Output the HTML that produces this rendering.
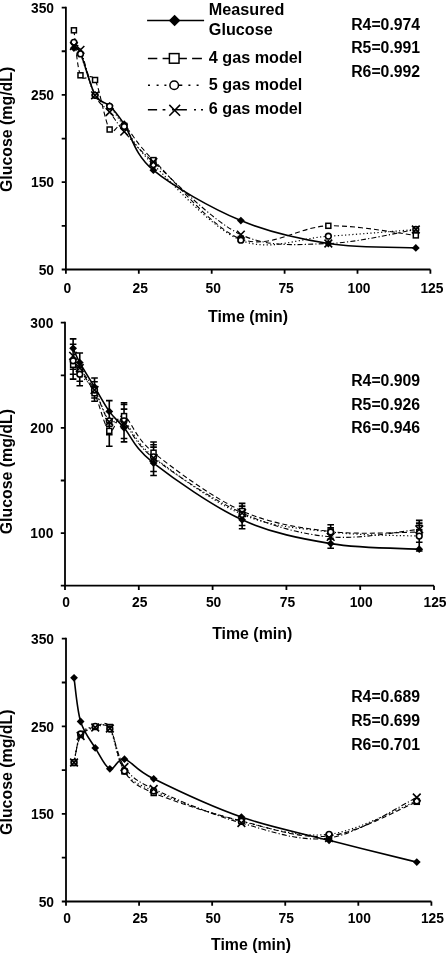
<!DOCTYPE html>
<html><head><meta charset="utf-8"><style>
html,body{margin:0;padding:0;background:#fff;}
svg{display:block;will-change:transform;}
text{font-family:"Liberation Sans",sans-serif;font-weight:bold;fill:#000;}
</style></head><body>
<svg width="448" height="954" viewBox="0 0 448 954">
<path d="M65.90,6.70V269.50H430.40" stroke="#000" stroke-width="1.80" fill="none"/>
<path d="M61.70,269.50H65.90M61.70,225.85H65.90M61.70,182.20H65.90M61.70,138.55H65.90M61.70,94.90H65.90M61.70,51.25H65.90M61.70,7.60H65.90M65.90,269.50V273.70M138.80,269.50V273.70M211.70,269.50V273.70M284.60,269.50V273.70M357.50,269.50V273.70M430.40,269.50V273.70" stroke="#000" stroke-width="1.80" fill="none"/>
<text x="54.00" y="12.80" font-size="13.80" text-anchor="end" >350</text>
<text x="54.00" y="100.10" font-size="13.80" text-anchor="end" >250</text>
<text x="54.00" y="187.40" font-size="13.80" text-anchor="end" >150</text>
<text x="54.00" y="274.70" font-size="13.80" text-anchor="end" >50</text>
<text x="67.40" y="292.50" font-size="13.80" text-anchor="middle" >0</text>
<text x="140.30" y="292.50" font-size="13.80" text-anchor="middle" >25</text>
<text x="213.20" y="292.50" font-size="13.80" text-anchor="middle" >50</text>
<text x="286.10" y="292.50" font-size="13.80" text-anchor="middle" >75</text>
<text x="359.00" y="292.50" font-size="13.80" text-anchor="middle" >100</text>
<text x="431.90" y="292.50" font-size="13.80" text-anchor="middle" >125</text>
<text x="248.00" y="321.70" font-size="15.90" text-anchor="middle" >Time (min)</text>
<text transform="translate(11.60,129.40) rotate(-90)" font-size="15.90" text-anchor="middle">Glucose (mg/dL)</text>
<text x="351.20" y="29.60" font-size="15.80" text-anchor="start" >R4=0.974</text>
<text x="351.20" y="53.40" font-size="15.80" text-anchor="start" >R5=0.991</text>
<text x="351.20" y="77.20" font-size="15.80" text-anchor="start" >R6=0.992</text>
<path d="M73.92,48.00 C75.01,48.83 76.96,45.17 80.48,53.00 C84.00,60.83 90.20,86.20 95.06,95.00 C99.92,103.80 104.78,100.93 109.64,105.80 C114.50,110.67 116.93,113.47 124.22,124.20 C131.51,134.93 133.94,154.13 153.38,170.20 C172.82,186.27 211.70,208.38 240.86,220.60 C270.02,232.82 299.18,238.95 328.34,243.50 C357.50,248.05 401.24,247.17 415.82,247.90" stroke="#000" stroke-width="1.6" fill="none"/>
<path d="M73.92,30.30 C75.01,37.80 76.96,67.02 80.48,75.30 C84.00,83.58 90.20,70.97 95.06,80.00 C99.92,89.03 104.78,121.85 109.64,129.50 C114.50,137.15 116.93,120.80 124.22,125.90 C131.51,131.00 133.94,141.25 153.38,160.10 C172.82,178.95 211.70,228.05 240.86,239.00 C270.02,249.95 299.18,226.40 328.34,225.80 C357.50,225.20 401.24,233.80 415.82,235.40" stroke="#000" stroke-width="1.1" fill="none" stroke-dasharray="5,3"/>
<path d="M73.92,42.30 C75.01,44.23 76.96,45.07 80.48,53.90 C84.00,62.73 90.20,86.57 95.06,95.30 C99.92,104.03 104.78,101.10 109.64,106.30 C114.50,111.50 116.93,116.78 124.22,126.50 C131.51,136.22 133.94,145.65 153.38,164.60 C172.82,183.55 211.70,228.27 240.86,240.20 C270.02,252.13 299.18,237.98 328.34,236.20 C357.50,234.42 401.24,230.62 415.82,229.50" stroke="#000" stroke-width="1.2" fill="none" stroke-dasharray="1.2,2.4"/>
<path d="M73.92,46.00 C75.01,46.65 76.96,41.68 80.48,49.90 C84.00,58.12 90.20,84.95 95.06,95.30 C99.92,105.65 104.78,105.93 109.64,112.00 C114.50,118.07 116.93,123.37 124.22,131.70 C131.51,140.03 133.94,144.85 153.38,162.00 C172.82,179.15 211.70,221.02 240.86,234.60 C270.02,248.18 299.18,244.35 328.34,243.50 C357.50,242.65 401.24,231.83 415.82,229.50" stroke="#000" stroke-width="1.1" fill="none" stroke-dasharray="5,2.2,1.2,2.2"/>
<path d="M73.92,44.10L77.82,48.00L73.92,51.90L70.02,48.00Z" fill="#000"/>
<path d="M80.48,49.10L84.38,53.00L80.48,56.90L76.58,53.00Z" fill="#000"/>
<path d="M95.06,91.10L98.96,95.00L95.06,98.90L91.16,95.00Z" fill="#000"/>
<path d="M109.64,101.90L113.54,105.80L109.64,109.70L105.74,105.80Z" fill="#000"/>
<path d="M124.22,120.30L128.12,124.20L124.22,128.10L120.32,124.20Z" fill="#000"/>
<path d="M153.38,166.30L157.28,170.20L153.38,174.10L149.48,170.20Z" fill="#000"/>
<path d="M240.86,216.70L244.76,220.60L240.86,224.50L236.96,220.60Z" fill="#000"/>
<path d="M328.34,239.60L332.24,243.50L328.34,247.40L324.44,243.50Z" fill="#000"/>
<path d="M415.82,244.00L419.72,247.90L415.82,251.80L411.92,247.90Z" fill="#000"/>
<rect x="71.42" y="27.80" width="5.00" height="5.00" fill="#fff" stroke="#000" stroke-width="1.50"/>
<rect x="77.98" y="72.80" width="5.00" height="5.00" fill="#fff" stroke="#000" stroke-width="1.50"/>
<rect x="92.56" y="77.50" width="5.00" height="5.00" fill="#fff" stroke="#000" stroke-width="1.50"/>
<rect x="107.14" y="127.00" width="5.00" height="5.00" fill="#fff" stroke="#000" stroke-width="1.50"/>
<rect x="121.72" y="123.40" width="5.00" height="5.00" fill="#fff" stroke="#000" stroke-width="1.50"/>
<rect x="150.88" y="157.60" width="5.00" height="5.00" fill="#fff" stroke="#000" stroke-width="1.50"/>
<rect x="238.36" y="236.50" width="5.00" height="5.00" fill="#fff" stroke="#000" stroke-width="1.50"/>
<rect x="325.84" y="223.30" width="5.00" height="5.00" fill="#fff" stroke="#000" stroke-width="1.50"/>
<rect x="413.32" y="232.90" width="5.00" height="5.00" fill="#fff" stroke="#000" stroke-width="1.50"/>
<circle cx="73.92" cy="42.30" r="2.85" fill="#fff" stroke="#000" stroke-width="1.60"/>
<circle cx="80.48" cy="53.90" r="2.85" fill="#fff" stroke="#000" stroke-width="1.60"/>
<circle cx="95.06" cy="95.30" r="2.85" fill="#fff" stroke="#000" stroke-width="1.60"/>
<circle cx="109.64" cy="106.30" r="2.85" fill="#fff" stroke="#000" stroke-width="1.60"/>
<circle cx="124.22" cy="126.50" r="2.85" fill="#fff" stroke="#000" stroke-width="1.60"/>
<circle cx="153.38" cy="164.60" r="2.85" fill="#fff" stroke="#000" stroke-width="1.60"/>
<circle cx="240.86" cy="240.20" r="2.85" fill="#fff" stroke="#000" stroke-width="1.60"/>
<circle cx="328.34" cy="236.20" r="2.85" fill="#fff" stroke="#000" stroke-width="1.60"/>
<circle cx="415.82" cy="229.50" r="2.85" fill="#fff" stroke="#000" stroke-width="1.60"/>
<path d="M70.07,42.15L77.77,49.85M70.07,49.85L77.77,42.15" stroke="#000" stroke-width="1.60" fill="none"/>
<path d="M76.63,46.05L84.33,53.75M76.63,53.75L84.33,46.05" stroke="#000" stroke-width="1.60" fill="none"/>
<path d="M91.21,91.45L98.91,99.15M91.21,99.15L98.91,91.45" stroke="#000" stroke-width="1.60" fill="none"/>
<path d="M105.79,108.15L113.49,115.85M105.79,115.85L113.49,108.15" stroke="#000" stroke-width="1.60" fill="none"/>
<path d="M120.37,127.85L128.07,135.55M120.37,135.55L128.07,127.85" stroke="#000" stroke-width="1.60" fill="none"/>
<path d="M149.53,158.15L157.23,165.85M149.53,165.85L157.23,158.15" stroke="#000" stroke-width="1.60" fill="none"/>
<path d="M237.01,230.75L244.71,238.45M237.01,238.45L244.71,230.75" stroke="#000" stroke-width="1.60" fill="none"/>
<path d="M324.49,239.65L332.19,247.35M324.49,247.35L332.19,239.65" stroke="#000" stroke-width="1.60" fill="none"/>
<path d="M411.97,225.65L419.67,233.35M411.97,233.35L419.67,225.65" stroke="#000" stroke-width="1.60" fill="none"/>
<path d="M65.00,321.80V585.70H434.00" stroke="#000" stroke-width="1.80" fill="none"/>
<path d="M60.80,585.70H65.00M60.80,533.10H65.00M60.80,480.50H65.00M60.80,427.90H65.00M60.80,375.30H65.00M60.80,322.70H65.00M65.00,585.70V589.90M138.80,585.70V589.90M212.60,585.70V589.90M286.40,585.70V589.90M360.20,585.70V589.90M434.00,585.70V589.90" stroke="#000" stroke-width="1.80" fill="none"/>
<text x="53.40" y="327.90" font-size="13.80" text-anchor="end" >300</text>
<text x="53.40" y="433.10" font-size="13.80" text-anchor="end" >200</text>
<text x="53.40" y="538.30" font-size="13.80" text-anchor="end" >100</text>
<text x="66.00" y="607.20" font-size="13.80" text-anchor="middle" >0</text>
<text x="139.80" y="607.20" font-size="13.80" text-anchor="middle" >25</text>
<text x="213.60" y="607.20" font-size="13.80" text-anchor="middle" >50</text>
<text x="287.40" y="607.20" font-size="13.80" text-anchor="middle" >75</text>
<text x="361.20" y="607.20" font-size="13.80" text-anchor="middle" >100</text>
<text x="435.00" y="607.20" font-size="13.80" text-anchor="middle" >125</text>
<text x="252.20" y="639.00" font-size="15.90" text-anchor="middle" >Time (min)</text>
<text transform="translate(11.60,471.60) rotate(-90)" font-size="15.90" text-anchor="middle">Glucose (mg/dL)</text>
<text x="351.20" y="385.70" font-size="15.80" text-anchor="start" >R4=0.909</text>
<text x="351.20" y="409.50" font-size="15.80" text-anchor="start" >R5=0.926</text>
<text x="351.20" y="433.30" font-size="15.80" text-anchor="start" >R6=0.946</text>
<path d="M73.12,338.90V379.10M69.82,338.90H76.42M69.82,344.30H76.42M69.82,369.30H76.42M69.82,374.20H76.42M69.82,379.10H76.42M79.76,353.00V385.80M76.46,353.00H83.06M76.46,381.30H83.06M76.46,385.80H83.06M94.52,378.00V401.30M91.22,378.00H97.82M91.22,381.80H97.82M91.22,398.00H97.82M91.22,401.30H97.82M109.28,400.60V446.20M105.98,400.60H112.58M105.98,426.25H112.58M105.98,434.80H112.58M105.98,446.20H112.58M124.04,402.80V441.90M120.74,402.80H127.34M120.74,404.50H127.34M120.74,409.10H127.34M120.74,438.50H127.34M120.74,441.90H127.34M153.56,442.00V475.50M150.26,442.00H156.86M150.26,444.70H156.86M150.26,447.10H156.86M150.26,471.50H156.86M150.26,475.50H156.86M242.12,503.40V528.80M238.82,503.40H245.42M238.82,506.10H245.42M238.82,509.40H245.42M238.82,525.50H245.42M238.82,528.80H245.42M330.68,524.80V548.20M327.38,524.80H333.98M327.38,527.80H333.98M327.38,539.00H333.98M327.38,548.20H333.98M419.24,520.40V551.00M415.94,520.40H422.54M415.94,523.10H422.54M415.94,525.40H422.54M415.94,542.20H422.54M415.94,551.00H422.54" stroke="#000" stroke-width="1.6" fill="none"/>
<path d="M73.12,348.30 C74.22,350.68 76.19,356.15 79.76,362.60 C83.33,369.05 89.60,378.87 94.52,387.00 C99.44,395.13 104.36,404.60 109.28,411.40 C114.20,418.20 116.66,419.18 124.04,427.80 C131.42,436.42 133.88,447.77 153.56,463.10 C173.24,478.43 212.60,506.38 242.12,519.80 C271.64,533.22 301.16,538.70 330.68,543.60 C360.20,548.50 404.48,548.27 419.24,549.20" stroke="#000" stroke-width="1.6" fill="none"/>
<path d="M73.12,364.80 C74.22,365.67 76.19,365.27 79.76,370.00 C83.33,374.73 89.60,383.05 94.52,393.20 C99.44,403.35 104.36,427.08 109.28,430.90 C114.20,434.72 116.66,412.47 124.04,416.10 C131.42,419.73 133.88,436.88 153.56,452.70 C173.24,468.52 212.60,497.87 242.12,511.00 C271.64,524.13 301.16,527.98 330.68,531.50 C360.20,535.02 404.48,532.00 419.24,532.10" stroke="#000" stroke-width="1.1" fill="none" stroke-dasharray="5,3"/>
<path d="M73.12,360.80 C74.22,363.03 76.19,369.33 79.76,374.20 C83.33,379.07 89.60,382.23 94.52,390.00 C99.44,397.77 104.36,415.67 109.28,420.80 C114.20,425.93 116.66,414.80 124.04,420.80 C131.42,426.80 133.88,441.20 153.56,456.80 C173.24,472.40 212.60,501.87 242.12,514.40 C271.64,526.93 301.16,528.38 330.68,532.00 C360.20,535.62 404.48,535.42 419.24,536.10" stroke="#000" stroke-width="1.2" fill="none" stroke-dasharray="1.2,2.4"/>
<path d="M73.12,355.90 C74.22,357.92 76.19,362.32 79.76,368.00 C83.33,373.68 89.60,381.03 94.52,390.00 C99.44,398.97 104.36,416.30 109.28,421.80 C114.20,427.30 116.66,416.97 124.04,423.00 C131.42,429.03 133.88,443.00 153.56,458.00 C173.24,473.00 212.60,499.85 242.12,513.00 C271.64,526.15 301.16,534.17 330.68,536.90 C360.20,539.63 404.48,530.65 419.24,529.40" stroke="#000" stroke-width="1.1" fill="none" stroke-dasharray="5,2.2,1.2,2.2"/>
<path d="M73.12,344.40L77.02,348.30L73.12,352.20L69.22,348.30Z" fill="#000"/>
<path d="M79.76,358.70L83.66,362.60L79.76,366.50L75.86,362.60Z" fill="#000"/>
<path d="M94.52,383.10L98.42,387.00L94.52,390.90L90.62,387.00Z" fill="#000"/>
<path d="M109.28,407.50L113.18,411.40L109.28,415.30L105.38,411.40Z" fill="#000"/>
<path d="M124.04,423.90L127.94,427.80L124.04,431.70L120.14,427.80Z" fill="#000"/>
<path d="M153.56,459.20L157.46,463.10L153.56,467.00L149.66,463.10Z" fill="#000"/>
<path d="M242.12,515.90L246.02,519.80L242.12,523.70L238.22,519.80Z" fill="#000"/>
<path d="M330.68,539.70L334.58,543.60L330.68,547.50L326.78,543.60Z" fill="#000"/>
<path d="M419.24,545.30L423.14,549.20L419.24,553.10L415.34,549.20Z" fill="#000"/>
<rect x="70.62" y="362.30" width="5.00" height="5.00" fill="#fff" stroke="#000" stroke-width="1.50"/>
<rect x="77.26" y="367.50" width="5.00" height="5.00" fill="#fff" stroke="#000" stroke-width="1.50"/>
<rect x="92.02" y="390.70" width="5.00" height="5.00" fill="#fff" stroke="#000" stroke-width="1.50"/>
<rect x="106.78" y="428.40" width="5.00" height="5.00" fill="#fff" stroke="#000" stroke-width="1.50"/>
<rect x="121.54" y="413.60" width="5.00" height="5.00" fill="#fff" stroke="#000" stroke-width="1.50"/>
<rect x="151.06" y="450.20" width="5.00" height="5.00" fill="#fff" stroke="#000" stroke-width="1.50"/>
<rect x="239.62" y="508.50" width="5.00" height="5.00" fill="#fff" stroke="#000" stroke-width="1.50"/>
<rect x="328.18" y="529.00" width="5.00" height="5.00" fill="#fff" stroke="#000" stroke-width="1.50"/>
<rect x="416.74" y="529.60" width="5.00" height="5.00" fill="#fff" stroke="#000" stroke-width="1.50"/>
<circle cx="73.12" cy="360.80" r="2.85" fill="#fff" stroke="#000" stroke-width="1.60"/>
<circle cx="79.76" cy="374.20" r="2.85" fill="#fff" stroke="#000" stroke-width="1.60"/>
<circle cx="94.52" cy="390.00" r="2.85" fill="#fff" stroke="#000" stroke-width="1.60"/>
<circle cx="109.28" cy="420.80" r="2.85" fill="#fff" stroke="#000" stroke-width="1.60"/>
<circle cx="124.04" cy="420.80" r="2.85" fill="#fff" stroke="#000" stroke-width="1.60"/>
<circle cx="153.56" cy="456.80" r="2.85" fill="#fff" stroke="#000" stroke-width="1.60"/>
<circle cx="242.12" cy="514.40" r="2.85" fill="#fff" stroke="#000" stroke-width="1.60"/>
<circle cx="330.68" cy="532.00" r="2.85" fill="#fff" stroke="#000" stroke-width="1.60"/>
<circle cx="419.24" cy="536.10" r="2.85" fill="#fff" stroke="#000" stroke-width="1.60"/>
<path d="M69.27,352.05L76.97,359.75M69.27,359.75L76.97,352.05" stroke="#000" stroke-width="1.60" fill="none"/>
<path d="M75.91,364.15L83.61,371.85M75.91,371.85L83.61,364.15" stroke="#000" stroke-width="1.60" fill="none"/>
<path d="M90.67,386.15L98.37,393.85M90.67,393.85L98.37,386.15" stroke="#000" stroke-width="1.60" fill="none"/>
<path d="M105.43,417.95L113.13,425.65M105.43,425.65L113.13,417.95" stroke="#000" stroke-width="1.60" fill="none"/>
<path d="M120.19,419.15L127.89,426.85M120.19,426.85L127.89,419.15" stroke="#000" stroke-width="1.60" fill="none"/>
<path d="M149.71,454.15L157.41,461.85M149.71,461.85L157.41,454.15" stroke="#000" stroke-width="1.60" fill="none"/>
<path d="M238.27,509.15L245.97,516.85M238.27,516.85L245.97,509.15" stroke="#000" stroke-width="1.60" fill="none"/>
<path d="M326.83,533.05L334.53,540.75M326.83,540.75L334.53,533.05" stroke="#000" stroke-width="1.60" fill="none"/>
<path d="M415.39,525.55L423.09,533.25M415.39,533.25L423.09,525.55" stroke="#000" stroke-width="1.60" fill="none"/>
<path d="M66.00,637.80V901.50H431.40" stroke="#000" stroke-width="1.80" fill="none"/>
<path d="M61.80,901.50H66.00M61.80,857.70H66.00M61.80,813.90H66.00M61.80,770.10H66.00M61.80,726.30H66.00M61.80,682.50H66.00M61.80,638.70H66.00M66.00,901.50V905.70M139.08,901.50V905.70M212.16,901.50V905.70M285.24,901.50V905.70M358.32,901.50V905.70M431.40,901.50V905.70" stroke="#000" stroke-width="1.80" fill="none"/>
<text x="54.00" y="643.90" font-size="13.80" text-anchor="end" >350</text>
<text x="54.00" y="731.50" font-size="13.80" text-anchor="end" >250</text>
<text x="54.00" y="819.10" font-size="13.80" text-anchor="end" >150</text>
<text x="54.00" y="906.70" font-size="13.80" text-anchor="end" >50</text>
<text x="67.00" y="923.30" font-size="13.80" text-anchor="middle" >0</text>
<text x="140.08" y="923.30" font-size="13.80" text-anchor="middle" >25</text>
<text x="213.16" y="923.30" font-size="13.80" text-anchor="middle" >50</text>
<text x="286.24" y="923.30" font-size="13.80" text-anchor="middle" >75</text>
<text x="359.32" y="923.30" font-size="13.80" text-anchor="middle" >100</text>
<text x="432.40" y="923.30" font-size="13.80" text-anchor="middle" >125</text>
<text x="251.00" y="950.10" font-size="15.90" text-anchor="middle" >Time (min)</text>
<text transform="translate(11.60,772.20) rotate(-90)" font-size="15.90" text-anchor="middle">Glucose (mg/dL)</text>
<text x="351.20" y="701.90" font-size="15.80" text-anchor="start" >R4=0.689</text>
<text x="351.20" y="725.70" font-size="15.80" text-anchor="start" >R5=0.699</text>
<text x="351.20" y="749.50" font-size="15.80" text-anchor="start" >R6=0.701</text>
<path d="M74.04,677.80 C75.13,685.08 77.08,709.82 80.62,721.50 C84.15,733.18 90.36,740.02 95.23,747.90 C100.10,755.78 104.98,766.92 109.85,768.80 C114.72,770.68 117.16,757.53 124.46,759.20 C131.77,760.87 134.21,769.15 153.70,778.80 C173.18,788.45 212.16,806.85 241.39,817.10 C270.62,827.35 299.86,832.80 329.09,840.30 C358.32,847.80 402.17,858.47 416.78,862.10" stroke="#000" stroke-width="1.6" fill="none"/>
<path d="M74.04,763.00 C75.13,758.33 77.08,741.00 80.62,735.00 C84.15,729.00 90.36,728.33 95.23,727.00 C100.10,725.67 104.98,719.60 109.85,727.00 C114.72,734.40 117.16,760.40 124.46,771.40 C131.77,782.40 134.21,784.73 153.70,793.00 C173.18,801.27 212.16,813.83 241.39,821.00 C270.62,828.17 299.86,839.20 329.09,836.00 C358.32,832.80 402.17,807.50 416.78,801.80" stroke="#000" stroke-width="1.1" fill="none" stroke-dasharray="5,3"/>
<path d="M74.04,762.50 C75.13,757.75 77.08,740.02 80.62,734.00 C84.15,727.98 90.36,727.23 95.23,726.40 C100.10,725.57 104.98,721.57 109.85,729.00 C114.72,736.43 117.16,760.67 124.46,771.00 C131.77,781.33 134.21,782.60 153.70,791.00 C173.18,799.40 212.16,814.18 241.39,821.40 C270.62,828.62 299.86,837.70 329.09,834.30 C358.32,830.90 402.17,806.55 416.78,801.00" stroke="#000" stroke-width="1.2" fill="none" stroke-dasharray="1.2,2.4"/>
<path d="M74.04,762.50 C75.13,758.08 77.08,741.83 80.62,736.00 C84.15,730.17 90.36,728.75 95.23,727.50 C100.10,726.25 104.98,721.92 109.85,728.50 C114.72,735.08 117.16,756.92 124.46,767.00 C131.77,777.08 134.21,779.67 153.70,789.00 C173.18,798.33 212.16,814.83 241.39,823.00 C270.62,831.17 299.86,842.25 329.09,838.00 C358.32,833.75 402.17,804.25 416.78,797.50" stroke="#000" stroke-width="1.1" fill="none" stroke-dasharray="5,2.2,1.2,2.2"/>
<path d="M74.04,673.90L77.94,677.80L74.04,681.70L70.14,677.80Z" fill="#000"/>
<path d="M80.62,717.60L84.52,721.50L80.62,725.40L76.72,721.50Z" fill="#000"/>
<path d="M95.23,744.00L99.13,747.90L95.23,751.80L91.33,747.90Z" fill="#000"/>
<path d="M109.85,764.90L113.75,768.80L109.85,772.70L105.95,768.80Z" fill="#000"/>
<path d="M124.46,755.30L128.36,759.20L124.46,763.10L120.56,759.20Z" fill="#000"/>
<path d="M153.70,774.90L157.60,778.80L153.70,782.70L149.80,778.80Z" fill="#000"/>
<path d="M241.39,813.20L245.29,817.10L241.39,821.00L237.49,817.10Z" fill="#000"/>
<path d="M329.09,836.40L332.99,840.30L329.09,844.20L325.19,840.30Z" fill="#000"/>
<path d="M416.78,858.20L420.68,862.10L416.78,866.00L412.88,862.10Z" fill="#000"/>
<rect x="71.54" y="760.50" width="5.00" height="5.00" fill="#fff" stroke="#000" stroke-width="1.50"/>
<rect x="78.12" y="732.50" width="5.00" height="5.00" fill="#fff" stroke="#000" stroke-width="1.50"/>
<rect x="92.73" y="724.50" width="5.00" height="5.00" fill="#fff" stroke="#000" stroke-width="1.50"/>
<rect x="107.35" y="724.50" width="5.00" height="5.00" fill="#fff" stroke="#000" stroke-width="1.50"/>
<rect x="121.96" y="768.90" width="5.00" height="5.00" fill="#fff" stroke="#000" stroke-width="1.50"/>
<rect x="151.20" y="790.50" width="5.00" height="5.00" fill="#fff" stroke="#000" stroke-width="1.50"/>
<rect x="238.89" y="818.50" width="5.00" height="5.00" fill="#fff" stroke="#000" stroke-width="1.50"/>
<rect x="326.59" y="833.50" width="5.00" height="5.00" fill="#fff" stroke="#000" stroke-width="1.50"/>
<rect x="414.28" y="799.30" width="5.00" height="5.00" fill="#fff" stroke="#000" stroke-width="1.50"/>
<circle cx="74.04" cy="762.50" r="2.85" fill="#fff" stroke="#000" stroke-width="1.60"/>
<circle cx="80.62" cy="734.00" r="2.85" fill="#fff" stroke="#000" stroke-width="1.60"/>
<circle cx="95.23" cy="726.40" r="2.85" fill="#fff" stroke="#000" stroke-width="1.60"/>
<circle cx="109.85" cy="729.00" r="2.85" fill="#fff" stroke="#000" stroke-width="1.60"/>
<circle cx="124.46" cy="771.00" r="2.85" fill="#fff" stroke="#000" stroke-width="1.60"/>
<circle cx="153.70" cy="791.00" r="2.85" fill="#fff" stroke="#000" stroke-width="1.60"/>
<circle cx="241.39" cy="821.40" r="2.85" fill="#fff" stroke="#000" stroke-width="1.60"/>
<circle cx="329.09" cy="834.30" r="2.85" fill="#fff" stroke="#000" stroke-width="1.60"/>
<circle cx="416.78" cy="801.00" r="2.85" fill="#fff" stroke="#000" stroke-width="1.60"/>
<path d="M70.19,758.65L77.89,766.35M70.19,766.35L77.89,758.65" stroke="#000" stroke-width="1.60" fill="none"/>
<path d="M76.77,732.15L84.47,739.85M76.77,739.85L84.47,732.15" stroke="#000" stroke-width="1.60" fill="none"/>
<path d="M91.38,723.65L99.08,731.35M91.38,731.35L99.08,723.65" stroke="#000" stroke-width="1.60" fill="none"/>
<path d="M106.00,724.65L113.70,732.35M106.00,732.35L113.70,724.65" stroke="#000" stroke-width="1.60" fill="none"/>
<path d="M120.61,763.15L128.31,770.85M120.61,770.85L128.31,763.15" stroke="#000" stroke-width="1.60" fill="none"/>
<path d="M149.85,785.15L157.55,792.85M149.85,792.85L157.55,785.15" stroke="#000" stroke-width="1.60" fill="none"/>
<path d="M237.54,819.15L245.24,826.85M237.54,826.85L245.24,819.15" stroke="#000" stroke-width="1.60" fill="none"/>
<path d="M325.24,834.15L332.94,841.85M325.24,841.85L332.94,834.15" stroke="#000" stroke-width="1.60" fill="none"/>
<path d="M412.93,793.65L420.63,801.35M412.93,801.35L420.63,793.65" stroke="#000" stroke-width="1.60" fill="none"/>
<path d="M147.1,20.5H204.1" stroke="#000" stroke-width="1.7"/>
<path d="M174.60,14.70L180.40,20.50L174.60,26.30L168.80,20.50Z" fill="#000"/>
<text x="208.80" y="15.40" font-size="16.20" text-anchor="start" >Measured</text>
<text x="208.80" y="34.60" font-size="16.20" text-anchor="start" >Glucose</text>
<path d="M147.9,58.4H157.3M162.6,58.4H186.9M192.1,58.4H201.9" stroke="#000" stroke-width="1.5"/>
<rect x="169.40" y="53.60" width="9.60" height="9.60" fill="#fff" stroke="#000" stroke-width="1.50"/>
<text x="208.80" y="62.60" font-size="16.20" text-anchor="start" >4 gas model</text>
<path d="M148,85.2H150M156.6,85.2H158.6M164.4,85.2H166.4M179,85.2H182.3M188.4,85.2H190.4M196.6,85.2H198.6" stroke="#000" stroke-width="1.5"/>
<circle cx="174.2" cy="85.2" r="4.3" fill="#fff" stroke="#000" stroke-width="1.5"/>
<text x="208.80" y="90.00" font-size="16.20" text-anchor="start" >5 gas model</text>
<path d="M147.9,109.7H157.1M162.6,109.7H165.4M172,109.7H186.9M194,109.7H196M201,109.7H203" stroke="#000" stroke-width="1.5"/>
<path d="M169.30,104.90L180.10,115.70M169.30,115.70L180.10,104.90" stroke="#000" stroke-width="1.50" fill="none"/>
<text x="208.80" y="114.20" font-size="16.20" text-anchor="start" >6 gas model</text>
</svg>
</body></html>
